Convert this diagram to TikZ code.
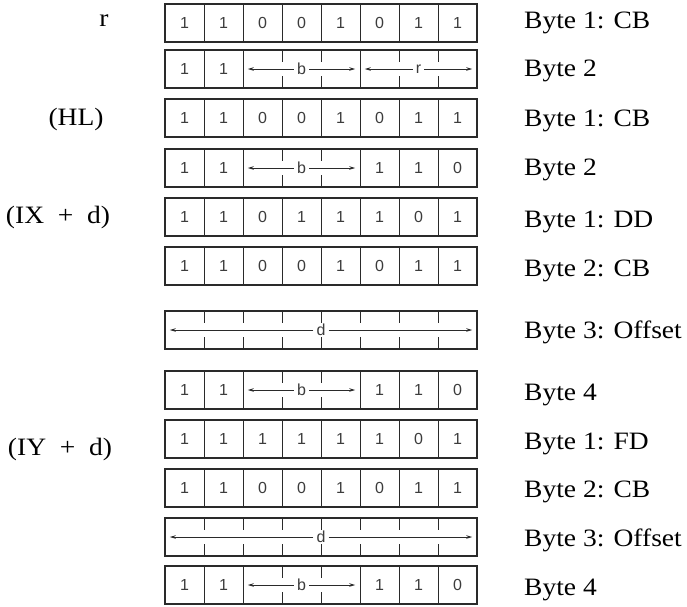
\documentclass[tikz,border=0pt]{standalone}
\usepackage{fontspec}
\setmainfont{Liberation Serif}
\newfontfamily\bitsfont{Liberation Sans}
\newfontfamily\namefont[FakeStretch=1.1]{Liberation Serif}
\usetikzlibrary{arrows.meta,positioning,calc}
\definecolor{ink}{HTML}{2A2A2A}
\definecolor{inklight}{HTML}{3C3C3C}
\tikzset{
  bytebox/.style={
    rectangle, draw=ink, line width=1.6pt,
    minimum width=312pt, minimum height=38pt, inner sep=0pt
  },
  bitcell/.style={
    rectangle, minimum width=39pt, minimum height=38pt, inner sep=0pt,
    font=\bitsfont\fontsize{16}{16}\selectfont, text=inklight
  },
  celldivider/.style={draw=ink, line width=1.2pt},
  fieldtick/.style={draw=ink, line width=1.1pt},
  fieldname/.style={
    font=\bitsfont\fontsize{16}{16}\selectfont, text=inklight, inner sep=3pt
  },
  fieldarrow/.style={
    -{Stealth[length=6pt, width=3.5pt]}, line width=0.8pt, color=ink
  },
  bytelabel/.style={
    anchor=base west, font=\namefont\fontsize{25}{25}\selectfont,
    text=black, inner sep=0pt
  },
  reglabel/.style={
    font=\namefont\fontsize{25}{25}\selectfont, text=black, inner sep=0pt
  },
}
% byte frame with eight cells: name, centre y, bits ({} inside a field)
\newcommand{\byterow}[3]{%
  \node[bytebox] (#1) at (321,#2) {};
  \foreach \bit [count=\k] in {#3}
    \node[bitcell] (#1-\k) at (145.5+39*\k,#2) {\bit};
}
\newcommand{\celldividers}[2]{%
  \foreach \k in {#2}
    \draw[celldivider] (#1-\k.north east) -- (#1-\k.south east);
}
\newcommand{\fieldticks}[2]{%
  \foreach \k in {#2} {
    \draw[fieldtick] (#1-\k.north east) -- ++(0,12);
    \draw[fieldtick] (#1-\k.south east) -- ++(0,-12);
  }
}
\newcommand{\bitbyte}[3]{\byterow{#1}{#2}{#3}\celldividers{#1}{1,...,7}}
% field over cells #2..#3 of byte #1, named #4
\newcommand{\bytefield}[4]{%
  \node[fieldname] (#1-#4) at ($(#1-#2.west)!0.5!(#1-#3.east)$) {#4};
  \coordinate (#1-#4-from) at ($(#1-#2.west)+(5,0)$);
  \coordinate (#1-#4-to) at ($(#1-#3.east)+(-5,0)$);
  \draw[fieldarrow] (#1-#4) -- (#1-#4-from);
  \draw[fieldarrow] (#1-#4) -- (#1-#4-to);
}

\begin{document}
\begin{tikzpicture}[x=1pt, y=-1pt]
  \useasboundingbox (0,0) rectangle (687,606);

  % Register r
  \bitbyte{rOne}{23}{1,1,0,0,1,0,1,1}
  \byterow{rTwo}{69}{1,1,{},{},{},{},{},{}}
  \celldividers{rTwo}{1,2,5}
  \fieldticks{rTwo}{3,4,6,7}
  \bytefield{rTwo}{3}{5}{b}
  \bytefield{rTwo}{6}{8}{r}

  % (HL)
  \bitbyte{hlOne}{118}{1,1,0,0,1,0,1,1}
  \byterow{hlTwo}{168}{1,1,{},{},{},1,1,0}
  \celldividers{hlTwo}{1,2,5,6,7}
  \fieldticks{hlTwo}{3,4}
  \bytefield{hlTwo}{3}{5}{b}

  % (IX + d)
  \bitbyte{ixOne}{217}{1,1,0,1,1,1,0,1}
  \bitbyte{ixTwo}{266}{1,1,0,0,1,0,1,1}
  \byterow{ixThree}{330}{{},{},{},{},{},{},{},{}}
  \fieldticks{ixThree}{1,...,7}
  \bytefield{ixThree}{1}{8}{d}
  \byterow{ixFour}{390}{1,1,{},{},{},1,1,0}
  \celldividers{ixFour}{1,2,5,6,7}
  \fieldticks{ixFour}{3,4}
  \bytefield{ixFour}{3}{5}{b}

  % (IY + d)
  \bitbyte{iyOne}{439}{1,1,1,1,1,1,0,1}
  \bitbyte{iyTwo}{488}{1,1,0,0,1,0,1,1}
  \byterow{iyThree}{537}{{},{},{},{},{},{},{},{}}
  \fieldticks{iyThree}{1,...,7}
  \bytefield{iyThree}{1}{8}{d}
  \byterow{iyFour}{585}{1,1,{},{},{},1,1,0}
  \celldividers{iyFour}{1,2,5,6,7}
  \fieldticks{iyFour}{3,4}
  \bytefield{iyFour}{3}{5}{b}

  % Register names
  \node[reglabel] (regR) at (104,21) {r};
  \node[reglabel] (regHL) at (76,119) {(HL)};
  \node[reglabel] (regIX) at (58,217) {(IX~~+~~d)};
  \node[reglabel] (regIY) at (60,449) {(IY~~+~~d)};

  % Byte names
  \node[bytelabel] (lblrOne) at (524,28) {Byte 1: CB};
  \node[bytelabel] (lblrTwo) at (524,76) {Byte 2};
  \node[bytelabel] (lblhlOne) at (524,126) {Byte 1: CB};
  \node[bytelabel] (lblhlTwo) at (524,175) {Byte 2};
  \node[bytelabel] (lblixOne) at (524,227) {Byte 1: DD};
  \node[bytelabel] (lblixTwo) at (524,276) {Byte 2: CB};
  \node[bytelabel] (lblixThree) at (524,338) {Byte 3: Offset};
  \node[bytelabel] (lblixFour) at (524,400) {Byte 4};
  \node[bytelabel] (lbliyOne) at (524,449) {Byte 1: FD};
  \node[bytelabel] (lbliyTwo) at (524,497) {Byte 2: CB};
  \node[bytelabel] (lbliyThree) at (524,546) {Byte 3: Offset};
  \node[bytelabel] (lbliyFour) at (524,595) {Byte 4};
\end{tikzpicture}
\end{document}
